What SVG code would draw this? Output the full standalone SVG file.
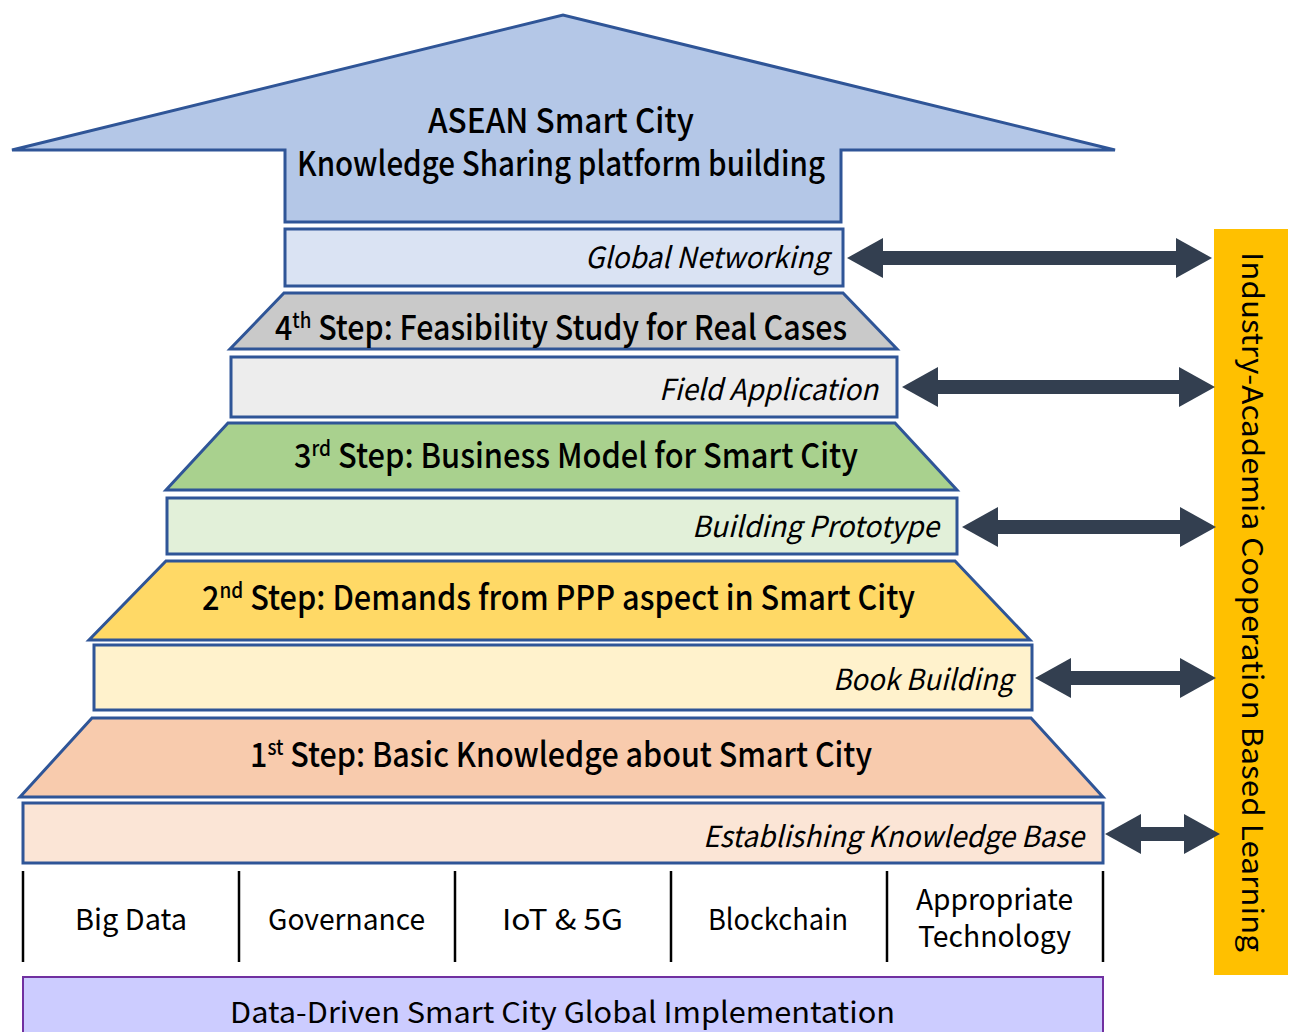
<svg xmlns="http://www.w3.org/2000/svg" width="1294" height="1032" viewBox="0 0 1294 1032">
<style>
.edge{stroke:#2f5597;stroke-width:3;stroke-linejoin:miter}
.title{font-family:"Noto Sans CJK KR","Noto Sans",sans-serif;font-weight:500;font-size:34px;fill:#000}
.lab{font-family:"Noto Sans CJK KR","Noto Sans",sans-serif;font-style:italic;font-size:29px;fill:#000}
.base{font-family:"Noto Sans CJK KR","Noto Sans",sans-serif;font-size:29px;fill:#000}
.sup{font-size:21px}
.conn{stroke:#333f50;stroke-width:14;fill:none}
.div{stroke:#000;stroke-width:2.5}
</style>
<defs>
<marker id="ah" viewBox="0 -20 36 40" markerUnits="userSpaceOnUse" markerWidth="36" markerHeight="40" refX="0" refY="0" orient="auto-start-reverse">
<path d="M0,-20 L36,0 L0,20 Z" fill="#333f50"/>
</marker>
</defs>
<rect width="1294" height="1032" fill="#fff"/>

<g id="goal">
<polygon class="edge" fill="#b4c7e7" points="12,150 563,15 1115,150 841,150 841,222 285,222 285,150"/>
<text class="title" x="428" y="133" font-size="30" textLength="266" lengthAdjust="spacingAndGlyphs">ASEAN Smart City</text>
<text class="title" x="297" y="176" font-size="30" textLength="528" lengthAdjust="spacingAndGlyphs">Knowledge Sharing platform building</text>
</g>

<g id="global-networking">
<rect class="edge" fill="#dae3f3" x="285" y="229" width="558" height="57"/>
<text class="lab" x="585" y="268" textLength="244" lengthAdjust="spacingAndGlyphs">Global Networking</text>
</g>

<g id="step4">
<polygon class="edge" fill="#c9c9c9" points="284,293 843,293 897,349 230,349"/>
<text class="title" x="275" y="340" textLength="572" lengthAdjust="spacingAndGlyphs">4<tspan class="sup" dy="-12">th</tspan><tspan dy="12"> Step: Feasibility Study for Real Cases</tspan></text>
</g>

<g id="field-application">
<rect class="edge" fill="#ededed" x="231" y="357" width="666" height="60"/>
<text class="lab" x="659" y="400" textLength="219" lengthAdjust="spacingAndGlyphs">Field Application</text>
</g>

<g id="step3">
<polygon class="edge" fill="#a9d18e" points="228,423 895,423 957,490 166,490"/>
<text class="title" x="294" y="468" textLength="564" lengthAdjust="spacingAndGlyphs">3<tspan class="sup" dy="-12">rd</tspan><tspan dy="12"> Step: Business Model for Smart City</tspan></text>
</g>

<g id="building-prototype">
<rect class="edge" fill="#e2f0d9" x="167" y="498" width="790" height="56"/>
<text class="lab" x="692" y="537" textLength="247" lengthAdjust="spacingAndGlyphs">Building Prototype</text>
</g>

<g id="step2">
<polygon class="edge" fill="#ffd966" points="166,561 955,561 1030,640 89,640"/>
<text class="title" x="202" y="610" textLength="713" lengthAdjust="spacingAndGlyphs">2<tspan class="sup" dy="-12">nd</tspan><tspan dy="12"> Step: Demands from PPP aspect in Smart City</tspan></text>
</g>

<g id="book-building">
<rect class="edge" fill="#fff2cc" x="94" y="645" width="938" height="65"/>
<text class="lab" x="833" y="690" textLength="180" lengthAdjust="spacingAndGlyphs">Book Building</text>
</g>

<g id="step1">
<polygon class="edge" fill="#f8cbad" points="92,718 1031,718 1103,797 20,797"/>
<text class="title" x="250" y="767" textLength="622" lengthAdjust="spacingAndGlyphs">1<tspan class="sup" dy="-12">st</tspan><tspan dy="12"> Step: Basic Knowledge about Smart City</tspan></text>
</g>

<g id="knowledge-base">
<rect class="edge" fill="#fbe5d6" x="23" y="803" width="1080" height="60"/>
<text class="lab" x="703" y="847" textLength="381" lengthAdjust="spacingAndGlyphs">Establishing Knowledge Base</text>
</g>

<g id="technologies">
<line class="div" x1="23" y1="871" x2="23" y2="962"/>
<line class="div" x1="239" y1="871" x2="239" y2="962"/>
<line class="div" x1="455" y1="871" x2="455" y2="962"/>
<line class="div" x1="671" y1="871" x2="671" y2="962"/>
<line class="div" x1="887" y1="871" x2="887" y2="962"/>
<line class="div" x1="1103" y1="871" x2="1103" y2="962"/>
<text class="base" x="75" y="930" textLength="112" lengthAdjust="spacingAndGlyphs">Big Data</text>
<text class="base" x="268" y="930" textLength="157" lengthAdjust="spacingAndGlyphs">Governance</text>
<text class="base" x="502" y="930" textLength="121" lengthAdjust="spacingAndGlyphs">IoT &amp; 5G</text>
<text class="base" x="708" y="930" textLength="140" lengthAdjust="spacingAndGlyphs">Blockchain</text>
<text class="base" x="916" y="910" textLength="157" lengthAdjust="spacingAndGlyphs">Appropriate</text>
<text class="base" x="918" y="947" textLength="153" lengthAdjust="spacingAndGlyphs">Technology</text>
</g>

<g id="implementation">
<rect fill="#ccccff" stroke="#7030a0" stroke-width="2" x="23" y="977" width="1080" height="70"/>
<text class="base" x="230" y="1023" font-size="30" textLength="665" lengthAdjust="spacingAndGlyphs">Data-Driven Smart City Global Implementation</text>
</g>

<g id="industry-academia">
<rect fill="#ffc000" x="1214" y="229" width="74" height="746"/>
<text class="base" font-size="30" transform="translate(1242,602) rotate(90)" text-anchor="middle" textLength="700" lengthAdjust="spacingAndGlyphs">Industry-Academia Cooperation Based Learning</text>
</g>

<g id="connectors">
<line class="conn" x1="883" y1="258" x2="1176" y2="258" marker-start="url(#ah)" marker-end="url(#ah)"/>
<line class="conn" x1="938" y1="387" x2="1179" y2="387" marker-start="url(#ah)" marker-end="url(#ah)"/>
<line class="conn" x1="998" y1="527" x2="1180" y2="527" marker-start="url(#ah)" marker-end="url(#ah)"/>
<line class="conn" x1="1071" y1="678" x2="1180" y2="678" marker-start="url(#ah)" marker-end="url(#ah)"/>
<line class="conn" x1="1141" y1="834" x2="1184" y2="834" marker-start="url(#ah)" marker-end="url(#ah)"/>
</g>
</svg>
